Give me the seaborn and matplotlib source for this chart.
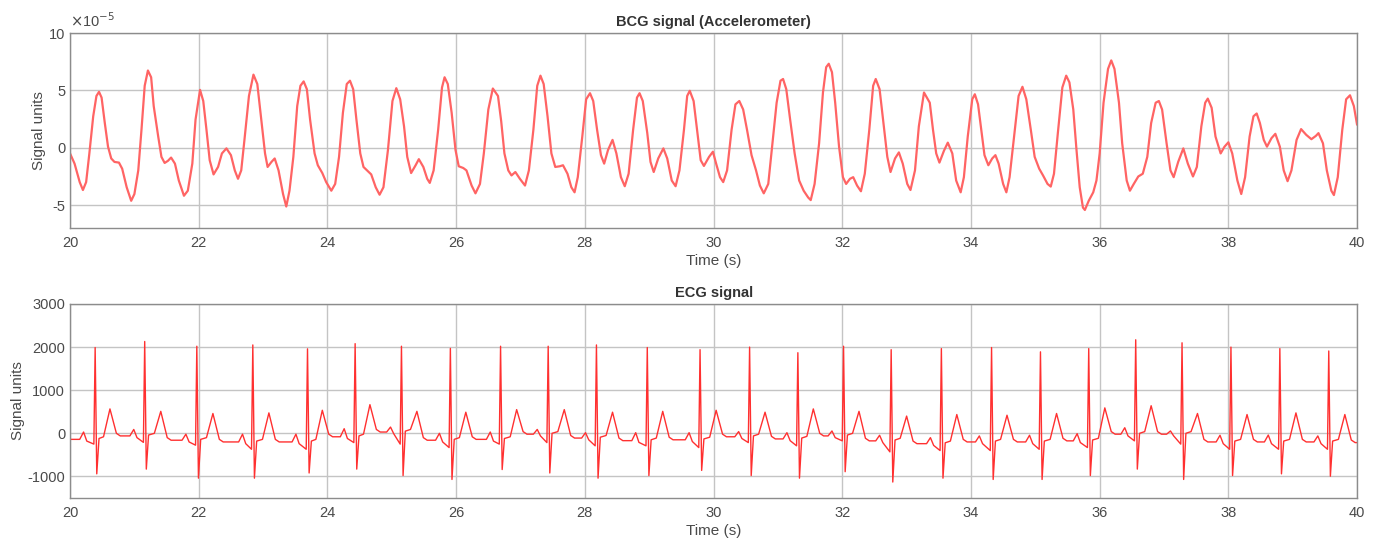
import numpy as np
import pandas as pd
import matplotlib
matplotlib.use("Agg")
import matplotlib.pyplot as plt
import seaborn as sns
from matplotlib.ticker import FuncFormatter

# ---- BCG signal: points (value in units of 1e-5)
bcg_time = [
    19.995, 20.07, 20.15, 20.20, 20.25, 20.30, 20.36, 20.41, 20.45, 20.49,
    20.54, 20.59, 20.64, 20.69, 20.76, 20.81, 20.88, 20.95, 21.00, 21.06,
    21.11, 21.16, 21.21, 21.26, 21.30, 21.37, 21.42, 21.47, 21.52, 21.57,
    21.63, 21.69, 21.77, 21.83, 21.90, 21.95, 22.02, 22.07, 22.12, 22.17,
    22.23, 22.30, 22.36, 22.43, 22.50, 22.56, 22.61, 22.66, 22.71, 22.78,
    22.85, 22.91, 22.96, 23.03, 23.07, 23.13, 23.18, 23.24,
    23.31, 23.36, 23.41, 23.47, 23.53, 23.58, 23.63, 23.68, 23.73, 23.80,
    23.85, 23.92, 23.98, 24.06, 24.12, 24.18, 24.24, 24.30, 24.35, 24.40,
    24.45, 24.51, 24.56, 24.63, 24.68, 24.75, 24.81, 24.87, 24.94, 25.01,
    25.07, 25.13, 25.19, 25.24, 25.30, 25.37, 25.42, 25.49, 25.55, 25.59,
    25.65, 25.72, 25.78, 25.82, 25.87, 25.93, 25.99, 26.04, 26.11, 26.16,
    26.24, 26.30, 26.37, 26.43, 26.50, 26.57,
    26.65, 26.70, 26.75, 26.81, 26.86, 26.92, 26.99, 27.07, 27.13, 27.20,
    27.26, 27.31, 27.36, 27.42, 27.48, 27.54, 27.61, 27.66, 27.73, 27.79,
    27.84, 27.89, 27.96, 28.02, 28.08, 28.13, 28.19, 28.25, 28.30, 28.36,
    28.43, 28.49, 28.56, 28.62, 28.68, 28.75, 28.81, 28.85, 28.90, 28.97,
    29.02, 29.07, 29.14, 29.22, 29.28, 29.35, 29.41, 29.47, 29.54, 29.59,
    29.63, 29.69, 29.75, 29.80, 29.85, 29.93,
    29.99, 30.04, 30.10, 30.15, 30.21, 30.28, 30.34, 30.40, 30.46, 30.52,
    30.59, 30.66, 30.72, 30.78, 30.85, 30.91, 30.98, 31.04, 31.08, 31.13,
    31.19, 31.26, 31.33, 31.40, 31.47, 31.51, 31.57, 31.64, 31.70, 31.75,
    31.79, 31.84, 31.89, 31.95, 32.01, 32.06, 32.12, 32.17, 32.23, 32.29,
    32.35, 32.42, 32.48, 32.52, 32.58, 32.64, 32.70, 32.75, 32.82, 32.88,
    32.94, 33.01, 33.06, 33.13, 33.19, 33.27,
    33.36, 33.41, 33.46, 33.51, 33.58, 33.64, 33.71, 33.77, 33.84, 33.89,
    33.95, 34.02, 34.06, 34.11, 34.16, 34.21, 34.27, 34.33, 34.38, 34.43,
    34.50, 34.55, 34.60, 34.67, 34.74, 34.80, 34.86, 34.93, 34.99, 35.06,
    35.12, 35.19, 35.24, 35.29, 35.35, 35.42, 35.48, 35.53, 35.59, 35.64,
    35.69, 35.74, 35.77, 35.83, 35.90, 35.95, 36.00, 36.06, 36.13, 36.18,
    36.23, 36.30, 36.35, 36.42, 36.47, 36.53, 36.60,
    36.67, 36.74, 36.80, 36.87, 36.92, 36.97, 37.04, 37.10, 37.15, 37.22,
    37.30, 37.37, 37.45, 37.51, 37.58, 37.64, 37.68, 37.74, 37.80, 37.88,
    37.94, 38.00, 38.06, 38.14, 38.20, 38.26, 38.33, 38.39, 38.44, 38.49,
    38.55, 38.60, 38.67, 38.73, 38.80, 38.86, 38.92, 38.98, 39.06, 39.13,
    39.21, 39.29, 39.36, 39.40, 39.47, 39.53, 39.60, 39.64, 39.70, 39.77,
    39.83, 39.89, 39.95, 40.00]
bcg_value = [
    -0.44, -1.39, -3.00, -3.69, -3.00, -0.50, 2.74, 4.51, 4.87, 4.37,
    2.15, 0.09, -0.94, -1.24, -1.30, -1.83, -3.45, -4.63, -4.04, -1.98,
    1.56, 5.40, 6.73, 6.14, 3.63, 0.97, -0.80, -1.33, -1.15, -0.86,
    -1.39, -2.86, -4.19, -3.75, -1.39, 2.45, 5.04, 4.07, 1.56, -1.09,
    -2.33, -1.68, -0.50, -0.06, -0.65, -1.98, -2.71, -1.98, 0.68, 4.51,
    6.37, 5.55, 3.04, -0.50, -1.68, -1.24, -0.94, -1.98,
    -4.04, -5.13, -3.75, -0.80, 3.63, 5.40, 5.78, 5.10, 2.45, -0.50,
    -1.53, -2.21, -3.00, -3.75, -3.16, -0.80, 3.04, 5.55, 5.84, 5.10,
    2.45, -0.50, -1.68, -2.06, -2.33, -3.45, -4.10, -3.45, -0.20, 4.07,
    5.19, 4.22, 1.86, -0.80, -2.21, -1.53, -1.00, -1.68, -2.71, -3.07,
    -1.98, 1.56, 5.25, 6.14, 5.55, 3.04, -0.20, -1.62, -1.77, -1.98,
    -3.30, -3.98, -3.16, -0.50, 3.33, 5.16,
    4.51, 2.30, -0.50, -1.98, -2.42, -2.12, -2.71, -3.30, -1.98, 1.56,
    5.40, 6.28, 5.55, 2.74, -0.50, -1.68, -1.62, -1.53, -2.27, -3.45,
    -3.89, -2.57, 0.97, 4.22, 4.75, 4.07, 1.56, -0.65, -1.39, -0.20,
    0.68, -0.50, -2.57, -3.36, -2.27, 1.56, 4.37, 4.75, 4.07, 1.27,
    -1.24, -2.12, -0.94, -0.06, -0.94, -2.86, -3.36, -1.98, 1.56, 4.51,
    4.96, 4.07, 1.27, -1.09, -1.59, -0.80,
    -0.35, -1.39, -2.57, -3.00, -1.98, 1.56, 3.78, 4.07, 3.33, 1.56,
    -0.65, -1.98, -3.30, -3.98, -3.16, 0.09, 3.92, 5.84, 5.99, 5.10,
    2.45, -0.50, -2.86, -3.75, -4.34, -4.57, -3.16, 0.38, 4.81, 7.02,
    7.32, 6.58, 3.92, 0.09, -2.57, -3.16, -2.71, -2.57, -3.30, -3.80,
    -2.27, 1.56, 5.40, 5.99, 5.10, 2.15, -0.80, -2.12, -0.94, -0.41,
    -1.39, -3.16, -3.69, -1.98, 1.86, 4.81,
    3.92, 1.56, -0.50, -1.30, -0.27, 0.44, -0.50, -2.86, -3.89, -2.57,
    0.97, 4.22, 4.66, 3.78, 1.56, -0.65, -1.53, -0.94, -0.65, -1.39,
    -3.16, -3.89, -2.57, 0.97, 4.51, 5.31, 4.22, 1.56, -0.80, -1.83,
    -2.42, -3.16, -3.39, -2.27, 1.27, 5.25, 6.28, 5.69, 3.33, -0.20,
    -3.45, -5.22, -5.43, -4.63, -3.89, -2.86, -0.50, 3.92, 6.87, 7.61,
    6.87, 3.92, 0.38, -2.86, -3.75, -3.16, -2.51,
    -2.27, -0.80, 2.15, 3.92, 4.07, 3.33, 0.38, -1.98, -2.57, -1.24,
    -0.06, -1.39, -2.51, -1.68, 1.86, 3.92, 4.28, 3.48, 0.97, -0.50,
    0.09, 0.47, -0.50, -2.86, -4.04, -2.57, 0.97, 2.74, 2.98, 2.15,
    0.68, 0.09, 0.83, 1.21, 0.09, -1.98, -2.92, -1.98, 0.68, 1.62,
    1.12, 0.74, 1.03, 1.27, 0.38, -1.98, -3.75, -4.13, -2.57, 1.56,
    4.22, 4.57, 3.63, 2.00]

# ---- ECG signal: per-beat landmarks
p_times = [20.21, 20.99, 21.80, 22.68, 23.51, 24.26, 24.98, 25.74, 26.53, 27.26,
           28.01, 28.79, 29.62, 30.39, 31.14, 31.84, 32.58, 33.37, 34.13, 34.91,
           35.65, 36.39, 37.10, 37.87, 38.62, 39.39]
p_amps = [30, 90, -20, -20, -20, 107, 145, 0, 30, 90,
          15, 15, 15, 40, 15, 55, -45, -100, -60, -45,
          -8, 130, 55, -45, -40, -60]
q_amps = [-250, -210, -275, -370, -370, -215, -250, -330, -250, -215,
          -290, -290, -330, -215, -290, -175, -430, -400, -400, -370,
          -330, -175, -250, -370, -370, -370]
r_times = [20.39, 21.16, 21.97, 22.84, 23.69, 24.43, 25.15, 25.91, 26.69, 27.43,
           28.18, 28.97, 29.79, 30.56, 31.31, 32.02, 32.76, 33.54, 34.32, 35.08,
           35.83, 36.56, 37.28, 38.04, 38.80, 39.56]
r_amps = [1990, 2130, 2020, 2050, 1960, 2080, 2020, 1970, 2020, 2020,
          2050, 1990, 1940, 2000, 1870, 2020, 1940, 1965, 1990, 1890,
          1965, 2170, 2100, 2000, 1965, 1910]
s_amps = [-940, -830, -1040, -1040, -920, -830, -980, -1070, -840, -920,
          -1040, -980, -860, -980, -1040, -890, -1130, -1040, -1070, -1070,
          -980, -830, -1070, -980, -940, -995]
t_times = [20.62, 21.41, 22.22, 23.09, 23.92, 24.66, 25.39, 26.15, 26.94, 27.68,
           28.43, 29.21, 30.04, 30.80, 31.55, 32.26, 33.00, 33.78, 34.56, 35.33,
           36.08, 36.80, 37.52, 38.29, 39.05, 39.81]
t_amps = [566, 510, 460, 474, 535, 665, 510, 490, 550, 550,
          490, 510, 535, 490, 566, 510, 400, 436, 420, 460,
          590, 640, 460, 436, 474, 436]
# baseline level before each P wave, and the closing level at 40 s
base_amps = [-140, -60, -160, -200, -200, -80, 30, -160, -140, -20,
             -110, -170, -150, -80, -130, -60, -175, -240, -200, -200,
             -175, -20, -20, -200, -200, -200]
end_amp = -215


def ecg_trace():
    ts, vs = [20.0], [base_amps[0]]
    for i in range(len(r_times)):
        b0 = base_amps[i]
        b1 = base_amps[i + 1] if i + 1 < len(base_amps) else end_amp
        pts = [(p_times[i] - 0.06, b0), (p_times[i], p_amps[i]), (p_times[i] + 0.05, b0 - 40),
               (r_times[i] - 0.02, q_amps[i]), (r_times[i], r_amps[i]),
               (r_times[i] + 0.025, s_amps[i]), (r_times[i] + 0.06, b0 + 20),
               (t_times[i] - 0.1, b0 + 60), (t_times[i], t_amps[i]),
               (t_times[i] + 0.1, b1 + 60), (t_times[i] + 0.16, b1)]
        for t, v in pts:
            ts.append(t); vs.append(v)
    ts.append(40.0); vs.append(end_amp)
    return pd.DataFrame({"time": ts, "value": vs})


bcg = pd.DataFrame({"time": bcg_time, "value": np.array(bcg_value) * 1e-5})
ecg = ecg_trace()

sns.set_style("white")
plt.rcParams["font.family"] = ["Liberation Sans", "DejaVu Sans"]
plt.rcParams["axes.unicode_minus"] = False

GRID = "#c4c4c4"
TXT = "#4a4a4a"

fig = plt.figure(figsize=(13.79, 5.41), dpi=100)
ax1 = fig.add_axes([0.0508, 0.5786, 0.9333, 0.3604])
ax2 = fig.add_axes([0.0508, 0.0795, 0.9333, 0.3586])

sns.lineplot(data=bcg, x="time", y="value", ax=ax1, color="#ff6464", linewidth=1.6,
             estimator=None, sort=False)
sns.lineplot(data=ecg, x="time", y="value", ax=ax2, color="#ff3030", linewidth=1.0,
             estimator=None, sort=False)

for ax, title in [(ax1, "BCG signal (Accelerometer)"), (ax2, "ECG signal")]:
    ax.set_xlim(20, 40)
    ax.set_xticks(range(20, 41, 2))
    ax.grid(True, color=GRID, linewidth=1.0)
    ax.set_axisbelow(True)
    for s in ax.spines.values():
        s.set_color("#8c8c8c"); s.set_linewidth(1.0)
    ax.tick_params(direction="in", length=6, width=1, colors="#7a7a7a",
                   labelcolor=TXT, labelsize=10.5, top=False, right=False)
    ax.tick_params(axis="x", pad=6)
    ax.set_title(title, fontsize=10.5, fontweight="bold", color="#333333", pad=5)
    ax.set_xlabel("Time (s)", fontsize=11, color=TXT, labelpad=3)
    ax.set_ylabel("Signal units", fontsize=11, color=TXT, labelpad=2)

ax1.set_ylim(-7e-5, 10e-5)
ax1.set_yticks([-5e-5, 0, 5e-5, 10e-5])
ax1.yaxis.set_major_formatter(FuncFormatter(lambda v, _: f"{v * 1e5:g}"))
ax1.text(0.0, 1.015, r"$\times$10$^{-5}$", transform=ax1.transAxes,
         fontsize=10.5, color=TXT, ha="left", va="bottom")

ax2.set_ylim(-1500, 3000)
ax2.set_yticks([-1000, 0, 1000, 2000, 3000])

fig.savefig("out.png", dpi=100)
